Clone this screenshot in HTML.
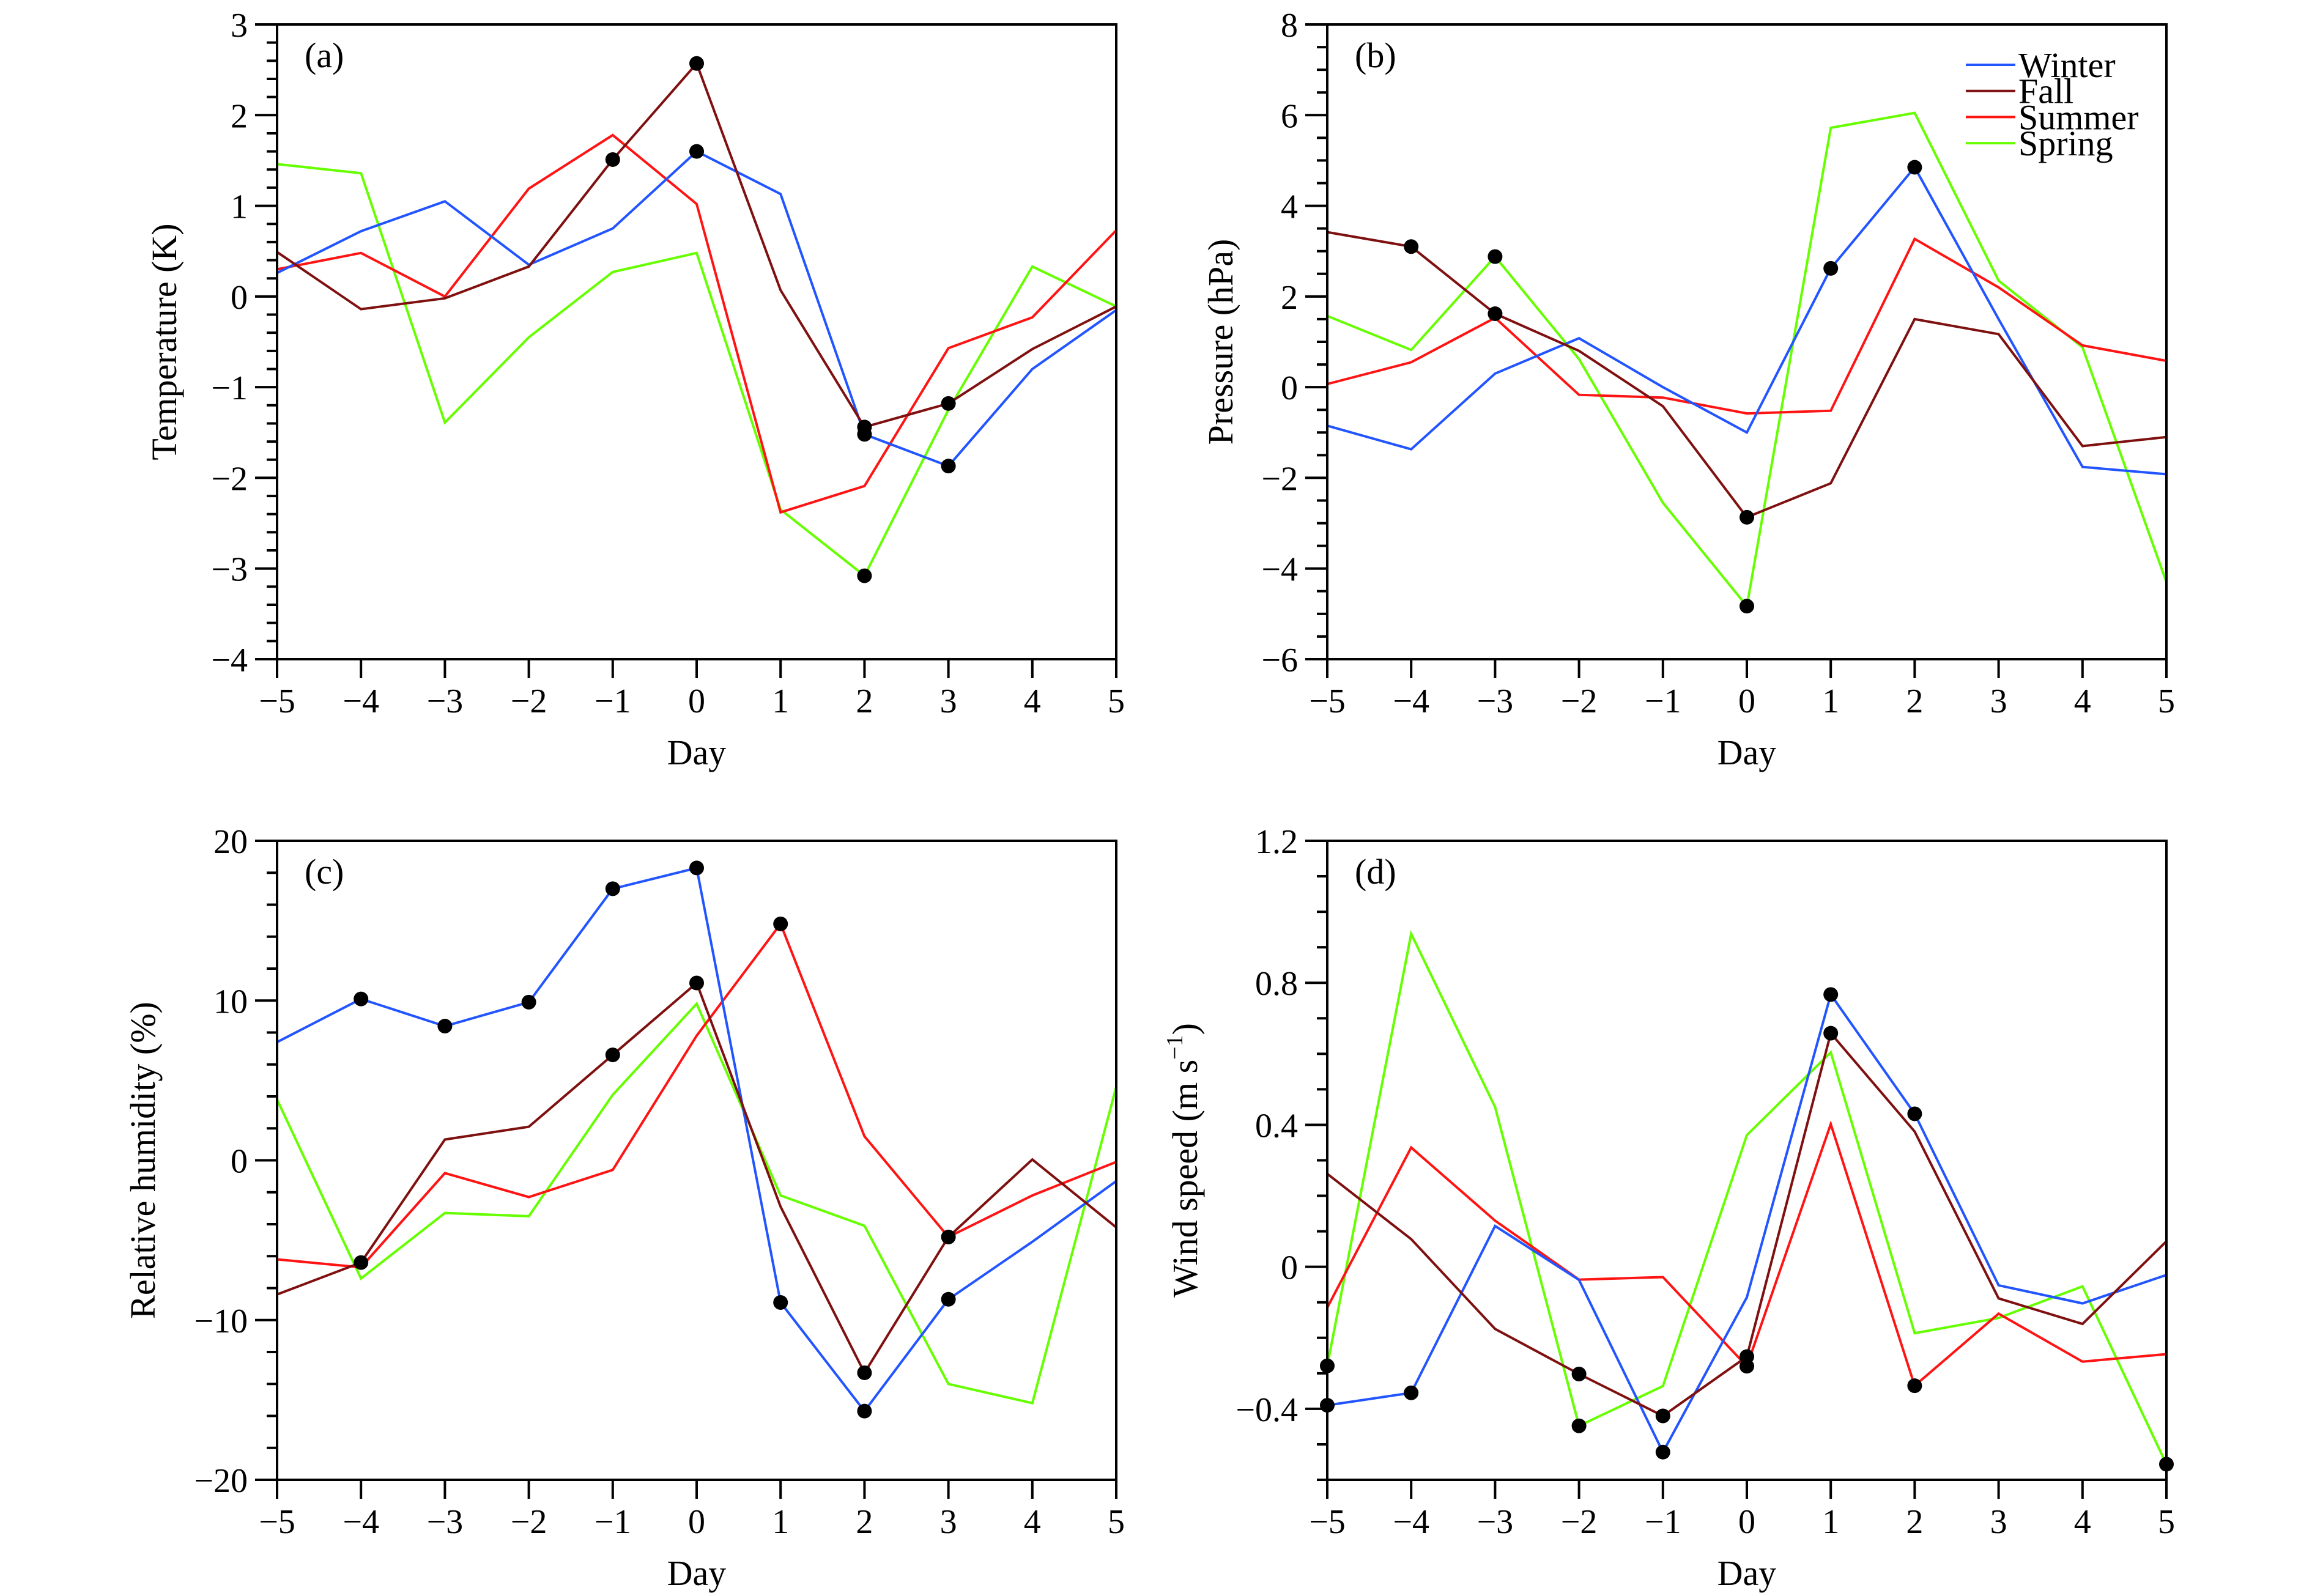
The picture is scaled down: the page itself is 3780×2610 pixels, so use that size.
<!DOCTYPE html>
<html><head><meta charset="utf-8"><style>
html,body{margin:0;padding:0;background:#fff;}
svg{display:block;font-family:"Liberation Serif",serif;}
</style></head><body>
<svg id="fig" width="3780" height="2610" viewBox="0 0 3780 2610" xmlns="http://www.w3.org/2000/svg"></svg>
<script>
const days = [-5,-4,-3,-2,-1,0,1,2,3,4,5];
const seasons = ["Winter","Fall","Summer","Spring"];
const colors = {Winter:"#2255ff",Fall:"#7f1010",Summer:"#ff1414",Spring:"#66ff00"};

// (a) Temperature
const tempWinter = [0.26,0.72,1.05,0.35,0.75,1.60,1.13,-1.52,-1.87,-0.80,-0.15];
const tempFall   = [0.49,-0.14,-0.02,0.33,1.51,2.57,0.07,-1.44,-1.18,-0.58,-0.11];
const tempSummer = [0.30,0.48,0.0,1.19,1.78,1.02,-2.38,-2.09,-0.57,-0.23,0.73];
const tempSpring = [1.46,1.36,-1.39,-0.45,0.27,0.48,-2.35,-3.08,-1.25,0.33,-0.11];
const tempDots = {Winter:[0,2,3],Fall:[-1,0,2,3],Spring:[2]};
// (b) Pressure
const presWinter = [-0.85,-1.37,0.30,1.08,0.0,-1.0,2.62,4.85,1.5,-1.76,-1.92];
const presFall   = [3.42,3.10,1.62,0.8,-0.42,-2.87,-2.12,1.5,1.17,-1.3,-1.1];
const presSummer = [0.07,0.55,1.53,-0.17,-0.23,-0.58,-0.52,3.27,2.2,0.92,0.58];
const presSpring = [1.57,0.82,2.88,0.62,-2.55,-4.83,5.72,6.05,2.35,0.88,-4.3];
const presDots = {Winter:[1,2],Fall:[-4,-3,0],Spring:[-3,0]};
// (c) Relative humidity
const rhWinter = [7.4,10.1,8.4,9.9,17.0,18.3,-8.9,-15.7,-8.7,-5.1,-1.3];
const rhFall   = [-8.4,-6.4,1.3,2.1,6.6,11.1,-2.9,-13.3,-4.8,0.05,-4.2];
const rhSummer = [-6.2,-6.7,-0.8,-2.3,-0.6,7.8,14.8,1.5,-4.8,-2.2,-0.1];
const rhSpring = [3.8,-7.4,-3.3,-3.5,4.1,9.8,-2.2,-4.1,-14.0,-15.2,4.6];
const rhDots = {Winter:[-4,-3,-2,-1,0,1,2,3],Fall:[-4,-1,0,2,3],Summer:[1]};
// (d) Wind speed
const wsWinter = [-0.39,-0.355,0.115,-0.037,-0.522,-0.086,0.767,0.431,-0.052,-0.103,-0.023];
const wsFall   = [0.262,0.078,-0.175,-0.302,-0.42,-0.253,0.658,0.381,-0.089,-0.161,0.072];
const wsSummer = [-0.115,0.336,0.13,-0.036,-0.029,-0.28,0.402,-0.335,-0.132,-0.267,-0.246];
const wsSpring = [-0.279,0.938,0.45,-0.448,-0.336,0.371,0.604,-0.187,-0.144,-0.055,-0.556];
const wsDots = {Winter:[-5,-4,-1,1,2],Fall:[-2,-1,0,1],Summer:[0,2],Spring:[-5,-2,5]};

const tempTicks = ["3","2","1","0","−1","−2","−3","−4"];
const presTicks = ["8","6","4","2","0","−2","−4","−6"];
const rhTicks = ["20","10","0","−10","−20"];
const wsTicks = ["1.2","0.8","0.4","0","−0.4"];

const NS="http://www.w3.org/2000/svg";
const svg=document.getElementById('fig');
function mk(tag,attrs,parent){const e=document.createElementNS(NS,tag);for(const k in attrs)e.setAttribute(k,attrs[k]);(parent||svg).appendChild(e);return e;}

const panels=[
 {id:'a',label:'(a)',title:'Temperature (K)',L:453,R:1825,T:40,B:1078,ymin:-4,ymax:3,major:1,minor:0.2,ticks:tempTicks,
  series:{Winter:tempWinter,Fall:tempFall,Summer:tempSummer,Spring:tempSpring},dots:tempDots,tOff:165},
 {id:'b',label:'(b)',title:'Pressure (hPa)',L:2170,R:3542,T:40,B:1078,ymin:-6,ymax:8,major:2,minor:0.5,ticks:presTicks,
  series:{Winter:presWinter,Fall:presFall,Summer:presSummer,Spring:presSpring},dots:presDots,tOff:155,legend:true},
 {id:'c',label:'(c)',title:'Relative humidity (%)',L:453,R:1825,T:1375,B:2420,ymin:-20,ymax:20,major:10,minor:2,ticks:rhTicks,
  series:{Winter:rhWinter,Fall:rhFall,Summer:rhSummer,Spring:rhSpring},dots:rhDots,tOff:200},
 {id:'d',label:'(d)',title:'Wind speed (m s',L:2170,R:3542,T:1375,B:2420,ymin:-0.6,ymax:1.2,major:0.4,minor:0.1,ticks:wsTicks,
  series:{Winter:wsWinter,Fall:wsFall,Summer:wsSummer,Spring:wsSpring},dots:wsDots,tOff:213,sup:true}
];

panels.forEach(p=>{
 const g=mk('g',{});
 
 
 const xs=d=>p.L+(d+5)/10*(p.R-p.L);
 const ys=v=>p.B-(v-p.ymin)/(p.ymax-p.ymin)*(p.B-p.T);
 ['Spring','Summer','Winter','Fall'].forEach(s=>{
  const vals=p.series[s];
  const pts=days.map((d,i)=>xs(d).toFixed(1)+','+ys(vals[i]).toFixed(1)).join(' ');
  const pl=mk('polyline',{points:pts,fill:'none',stroke:colors[s],'stroke-width':4,'stroke-linejoin':'miter'},g);
  
  
 });
 seasons.forEach(s=>{
  (p.dots[s]||[]).forEach(d=>{
   const i=days.indexOf(d);
   const c=mk('circle',{cx:xs(d),cy:ys(p.series[s][i]),r:12,fill:'#000'},g);
   
   
  });
 });
 const fr=mk('rect',{x:p.L,y:p.T,width:p.R-p.L,height:p.B-p.T,fill:'none',stroke:'#000','stroke-width':4},g);
 
 
 const nMinor=Math.round((p.ymax-p.ymin)/p.minor);
 for(let k=0;k<=nMinor;k++){
  const v=p.ymin+k*p.minor;
  const y=ys(v);
  const isMajor=Math.abs(Math.round((p.ymax-v)/p.major)-(p.ymax-v)/p.major)<1e-6;
  mk('line',{x1:p.L,x2:p.L-(isMajor?36:17),y1:y,y2:y,stroke:'#000','stroke-width':4},g);
 }
 p.ticks.forEach((t,k)=>{
  const y=ys(p.ymax-k*p.major);
  const tx=mk('text',{x:p.L-48,y:y+20,'font-size':56,'text-anchor':'end'},g);
  tx.textContent=t;
  
  
 });
 days.forEach(d=>{
  const x=xs(d);
  mk('line',{x1:x,x2:x,y1:p.B,y2:p.B+31,stroke:'#000','stroke-width':4},g);
  const tx=mk('text',{x:x,y:p.B+87,'font-size':56,'text-anchor':'middle'},g);
  tx.textContent=d<0?'−'+(-d):String(d);
  
  
 });
 const xt=mk('text',{x:(p.L+p.R)/2,y:p.B+172,'font-size':58,'text-anchor':'middle'},g);
 xt.textContent='Day';
 
 
 const cy=(p.T+p.B)/2, cx=p.L-p.tOff;
 const yt=mk('text',{x:cx,y:cy,'font-size':58,'text-anchor':'middle',transform:`rotate(-90 ${cx} ${cy})`},g);
 
 
 if(p.sup){
  yt.appendChild(document.createTextNode(p.title));
  const sp=mk('tspan',{'font-size':38,dy:-24},yt);sp.textContent='−1';
  const sp2=mk('tspan',{dy:24},yt);sp2.textContent=')';
 } else yt.textContent=p.title;
 const pl=mk('text',{x:p.L+45,y:p.T+70,'font-size':58},g);
 pl.textContent=p.label;
 
 
 if(p.legend){
  const lg=mk('g',{},g);
  
  
  seasons.forEach((s,i)=>{
   const y=106+i*42.7;
   const e=mk('g',{},lg);
   
   
   mk('line',{x1:3214,x2:3295,y1:y,y2:y,stroke:colors[s],'stroke-width':4},e);
   const t=mk('text',{x:3300,y:y+20,'font-size':58},e);t.textContent=s;
  });
 }
});
</script>
</body></html>
